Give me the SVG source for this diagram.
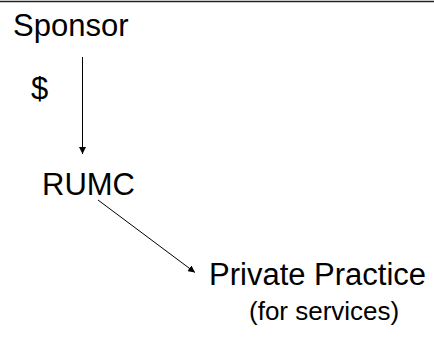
<svg xmlns="http://www.w3.org/2000/svg" width="434" height="338" viewBox="0 0 434 338">
<style>
text{font-family:"Liberation Sans",Arial,sans-serif;fill:#000}
.n{font-size:31px}
.s{font-size:26px}
.c{stroke:#000;stroke-width:1;fill:none}
</style>
<defs>
<marker id="ah" viewBox="0 0 10 10" refX="10" refY="5" markerWidth="7" markerHeight="7" markerUnits="userSpaceOnUse" orient="auto">
<path d="M0,0 L10,5 L0,10 z" fill="#000"/>
</marker>
</defs>
<rect width="434" height="338" fill="#fff"/>
<line x1="0" y1="1.5" x2="434" y2="1.5" stroke="#222" stroke-width="1.5"/>
<g id="sponsor"><text class="n" x="13" y="36">Sponsor</text></g>
<g id="dollar"><text class="n" x="31" y="99">$</text></g>
<g id="rumc"><text class="n" x="42" y="195">RUMC</text></g>
<g id="private"><text class="n" x="209" y="285">Private Practice</text></g>
<g id="services"><text class="s" x="249" y="320">(for services)</text></g>
<g id="connectors">
<line class="c" x1="82.5" y1="57" x2="82.5" y2="154" marker-end="url(#ah)" stroke="#333"/>
<line class="c" x1="98" y1="200" x2="195" y2="272.5" marker-end="url(#ah)"/>
</g>
</svg>
